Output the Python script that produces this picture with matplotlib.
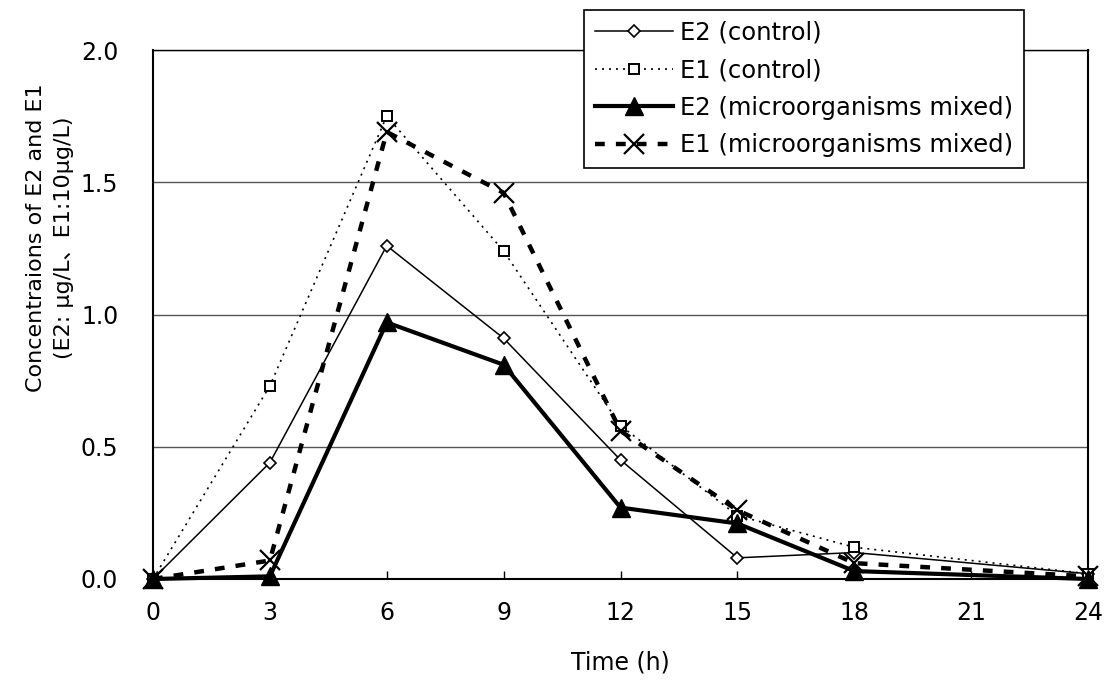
import matplotlib
matplotlib.use("Agg")
import matplotlib.pyplot as plt

plt.rcParams['font.family'] = ['DejaVu Sans', 'Noto Sans CJK JP']

# sampling times (h) and measured concentrations
time_h = [0, 3, 6, 9, 12, 15, 18, 24]
e2_control = [0.0, 0.44, 1.26, 0.91, 0.45, 0.08, 0.10, 0.02]
e1_control = [0.0, 0.73, 1.75, 1.24, 0.58, 0.24, 0.12, 0.02]
e2_mixed = [0.0, 0.01, 0.97, 0.81, 0.27, 0.21, 0.03, 0.0]
e1_mixed = [0.0, 0.07, 1.69, 1.46, 0.56, 0.26, 0.06, 0.01]

x_ticks = [0, 3, 6, 9, 12, 15, 18, 21, 24]
y_ticks = [0.0, 0.5, 1.0, 1.5, 2.0]

fig = plt.figure(figsize=(11.08, 6.89), dpi=100)
ax = fig.add_axes([153 / 1108, 1 - 579 / 689, (1088 - 153) / 1108, (579 - 50) / 689])

ax.plot(time_h, e2_control, color="black", linewidth=1.1, marker="D",
        markersize=6, markerfacecolor="white", markeredgecolor="black",
        markeredgewidth=1.2, label="E2 (control)", zorder=4, clip_on=False)
ax.plot(time_h, e1_control, color="black", linewidth=1.2, linestyle=(0, (1.2, 3)),
        marker="s", markersize=7, markerfacecolor="white", markeredgecolor="black",
        markeredgewidth=1.4, label="E1 (control)", zorder=4, clip_on=False)
ax.plot(time_h, e2_mixed, color="black", linewidth=3.0, marker="^",
        markersize=13, label="E2 (microorganisms mixed)", zorder=5, clip_on=False)
ax.plot(time_h, e1_mixed, color="black", linewidth=3.2, linestyle=(0, (2.2, 2.5)),
        marker="x", markersize=14, markeredgewidth=1.6,
        label="E1 (microorganisms mixed)", zorder=5, clip_on=False)

ax.set_xlim(0, 24)
ax.set_ylim(0, 2.0)
ax.set_xticks(x_ticks)
ax.set_yticks(y_ticks)
ax.set_yticklabels([f"{v:.1f}" for v in y_ticks])
ax.tick_params(axis="x", direction="in", length=6, width=1, labelsize=17, pad=16)
ax.tick_params(axis="y", length=0, labelsize=17, pad=25)
ax.yaxis.grid(True, color="#555555", linewidth=1.0)
ax.set_axisbelow(True)
for sp in ax.spines.values():
    sp.set_linewidth(1.5)
    sp.set_color("black")
ax.spines["top"].set_linewidth(1.0)

ax.set_xlabel("Time (h)", fontsize=17, labelpad=18)
ax.set_ylabel("Concentraions of E2 and E1\n(E2: μg/L、E1:10μg/L)", fontsize=16,
              linespacing=1.55)
ax.yaxis.set_label_coords(-0.084, 0.646)

leg = ax.legend(loc="upper left", bbox_to_anchor=((584 - 153) / 935, 1 + 40 / 529),
                fontsize=17.5, frameon=True, fancybox=False, edgecolor="black",
                framealpha=1, handlelength=3.2, handletextpad=0.3, borderpad=0.45,
                labelspacing=0.55, borderaxespad=0)
leg.get_frame().set_linewidth(1.2)

fig.savefig("out.png", dpi=100)
